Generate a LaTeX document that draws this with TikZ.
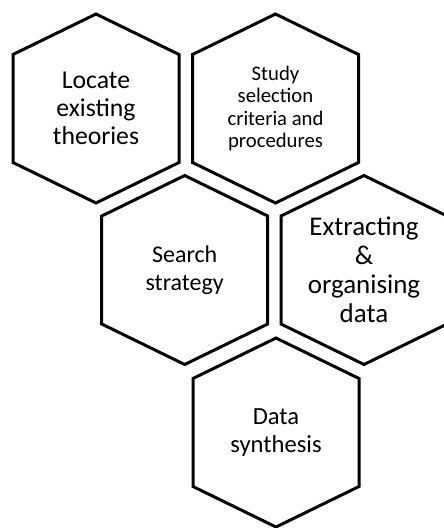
\documentclass[tikz,border=0pt]{standalone}
\usepackage{fontspec}
\setmainfont{Carlito}
\begin{document}
\begin{tikzpicture}[x=1pt,y=-1pt,
  hexline/.style={draw=black,line width=3pt,line join=miter},
  lbl/.style={align=center,inner sep=0pt,text=black}]
\useasboundingbox (0,0) rectangle (444,528);
\newcommand\hexpath[1]{%
  \draw[hexline] (#1) ++(0,-94.5) -- ++(83,40.5) -- ++(0,108) -- ++(-83,40.5)
    -- ++(-83,-40.5) -- ++(0,-108) -- cycle;}
\coordinate (h1) at (96,108.5);
\coordinate (h2) at (275.5,108.5);
\coordinate (h3) at (184.7,270);
\coordinate (h4) at (364,270);
\coordinate (h5) at (276,432.5);
\hexpath{h1}
\hexpath{h2}
\hexpath{h3}
\hexpath{h4}
\hexpath{h5}
\node[lbl,font=\fontsize{25.7}{28}\selectfont] (t1) at (h1) {Locate\\existing\\theories};
\node[lbl,font=\fontsize{20.7}{22.5}\selectfont] (t2) at (h2) {Study\\selection\\criteria and\\procedures};
\node[lbl,font=\fontsize{24}{27.5}\selectfont] (t3) at (h3) {Search\\strategy};
\node[lbl,font=\fontsize{27}{29}\selectfont] (t4) at (h4) {Extracting\\\&\\organising\\data};
\node[lbl,font=\fontsize{24.6}{27.5}\selectfont] (t5) at (h5) {Data\\synthesis};
\end{tikzpicture}
\end{document}
